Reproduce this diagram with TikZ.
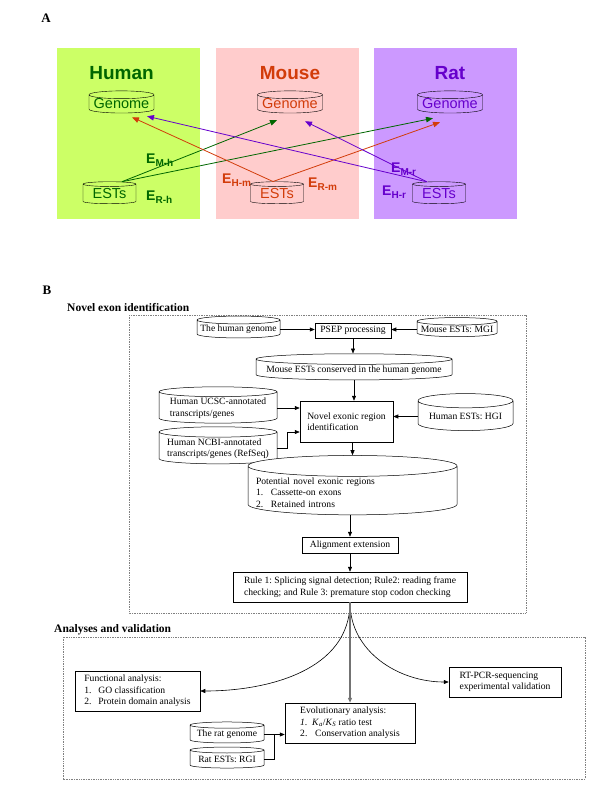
\documentclass[tikz,border=0pt]{standalone}
\usepackage{fontspec}
\setmainfont{Liberation Serif}
\newfontfamily\arialfont{Liberation Sans}
\usetikzlibrary{shapes.geometric,arrows.meta}
\definecolor{humanbg}{HTML}{CCFF66}
\definecolor{mousebg}{HTML}{FFCCCC}
\definecolor{ratbg}{HTML}{CC99FF}
\definecolor{humanfg}{HTML}{006600}
\definecolor{mousefg}{HTML}{D23C0A}
\definecolor{ratfg}{HTML}{6600CC}
\frenchspacing
\newcommand\Esub[1]{E\raisebox{-3pt}{\fontsize{10}{10}\selectfont #1}}
\tikzset{
  tag/.style={font=\fontsize{13}{13}\selectfont\bfseries, inner sep=0pt},
  species/.style={font=\arialfont\fontsize{19}{19}\selectfont\bfseries, inner sep=0pt},
  genomedb/.style={cylinder, shape border rotate=90, draw, aspect=0.14, inner sep=0pt,
    minimum width=65pt, minimum height=18pt, font=\arialfont\fontsize{14.5}{14.5}\selectfont},
  estdb/.style={genomedb, minimum width=53pt, minimum height=22pt},
  elabel/.style={font=\arialfont\fontsize{14}{14}\selectfont\bfseries, anchor=base west, inner sep=0pt},
  link/.style={-{Triangle[length=7pt,width=5.5pt]}, line width=0.8pt},
  store/.style={cylinder, shape border rotate=90, draw, fill=white, aspect=0.1, inner sep=1pt,
    font=\fontsize{9.6}{11.5}\selectfont, line width=0.5pt},
  procbox/.style={draw, fill=white, inner sep=2pt, font=\fontsize{9.6}{11.5}\selectfont, line width=0.5pt},
  flow/.style={-{Triangle[length=5pt,width=4pt]}, line width=0.6pt},
  panel/.style={draw=gray, dash pattern=on 1pt off 0.7pt, line width=0.5pt},
  heading/.style={font=\fontsize{11.5}{12}\selectfont\bfseries, anchor=west, inner sep=0pt}
}
\begin{document}
\begin{tikzpicture}[x=1pt,y=-1pt]
  \useasboundingbox (0,0) rectangle (600,806);
  %
  % panel A: one coloured column per species
  \node[tag] (labA) at (46,18) {A};
  \foreach \nm/\sp/\bx/\gx/\ex/\bg/\fg in {hum/Human/57/121.5/109.5/humanbg/humanfg,
                                          mou/Mouse/216/290/277/mousebg/mousefg,
                                          rat/Rat/374/450/439/ratbg/ratfg}
  {
    \fill[\bg] (\bx,48) rectangle ++(143,171);
    \node[species, text=\fg] (\nm T) at (\gx,73) {\sp};
    \node[genomedb, text=\fg] (\nm G) at (\gx,104) {Genome};
    \node[estdb, text=\fg] (\nm E) at (\ex,194) {ESTs};
  }
  %
  % cross-species EST mappings
  \draw[link, humanfg] (humE.north east) -- ([xshift=-13pt,yshift=-7pt]mouG.south);
  \draw[link, humanfg] (humE.north east) -- ([xshift=-17pt,yshift=-5pt]ratG.south);
  \draw[link, mousefg] ([xshift=-4pt]mouE.north) -- ([xshift=10.5pt,yshift=-4pt]humG.south);
  \draw[link, mousefg] ([xshift=-4pt]mouE.north) -- ([xshift=-10pt,yshift=-9pt]ratG.south);
  \draw[link, ratfg] (ratE.north west) -- ([xshift=25.5pt,yshift=-3pt]humG.south);
  \draw[link, ratfg] (ratE.north west) -- ([xshift=15pt,yshift=-8pt]mouG.south);
  %
  \node[elabel, text=humanfg] (emh) at (146,163) {\Esub{M-h}};
  \node[elabel, text=humanfg] (erh) at (146,200) {\Esub{R-h}};
  \node[elabel, text=mousefg] (ehm) at (222,183) {\Esub{H-m}};
  \node[elabel, text=mousefg] (erm) at (308,187) {\Esub{R-m}};
  \node[elabel, text=ratfg] (emr) at (391,172) {\Esub{M-r}};
  \node[elabel, text=ratfg] (ehr) at (382,195) {\Esub{H-r}};
  %
  % panel B: novel exon identification
  \node[tag] (labB) at (47,290) {B};
  \node[heading] (headN) at (67,308) {Novel exon identification};
  \draw[panel] (129,315) rectangle (526,613);
  %
  \node[store, minimum width=83pt, minimum height=17pt] (hgen) at (238.5,329.5) {The human genome};
  \node[procbox, minimum width=76pt, minimum height=15pt] (psep) at (353,330.5) {PSEP processing};
  \node[store, minimum width=80pt, minimum height=17pt] (mgi) at (457,329.5) {Mouse ESTs: MGI};
  \node[store, aspect=0.06, minimum width=196pt, minimum height=26pt] (cons) at (354,370)
    {Mouse ESTs conserved in the human genome};
  \node[store, align=left, minimum width=118pt, minimum height=28pt] (ucsc) at (218,408)
    {Human UCSC-annotated\\transcripts/genes};
  \node[procbox, align=left, minimum width=93pt, minimum height=41pt] (novel) at (346.5,421.5)
    {Novel exonic region\\identification};
  \node[store, aspect=0.19, minimum width=95pt, minimum height=37pt] (hgi) at (465.5,416.5) {Human ESTs: HGI};
  \node[store, align=left, minimum width=118pt, minimum height=31pt] (ncbi) at (218,448.5)
    {Human NCBI-annotated\\transcripts/genes (RefSeq)};
  \node[store, inner xsep=8pt, text width=193pt, align=left, minimum height=55pt] (pot) at (352.5,492.5)
    {Potential novel exonic regions\\
     \makebox[15pt][l]{1.}Cassette-on exons\\
     \makebox[15pt][l]{2.}Retained introns};
  \node[procbox, minimum width=96pt, minimum height=16pt] (align) at (350,545) {Alignment extension};
  \node[procbox, align=left, minimum width=234pt, minimum height=30pt] (rule) at (350,587)
    {Rule 1: Splicing signal detection; Rule2: reading frame\\
     checking; and Rule 3: premature stop codon checking};
  %
  \draw[flow] (hgen.east) -- (hgen.east -| psep.west);
  \draw[flow] (mgi.west) -- (mgi.west -| psep.east);
  \draw[flow] (psep.south) -- (psep.south |- cons.north);
  \draw[flow] (cons.south) -- (cons.south |- novel.north);
  \draw[flow] (ucsc.east) -- (ucsc.east -| novel.west);
  \draw[flow] (hgi.west) -- (hgi.west -| novel.east);
  \draw[flow] (ncbi.east) -- ++(10,0) |- ([yshift=-10.5pt]novel.west);
  \draw[flow] (pot.north |- novel.south) -- (pot.north);
  \draw[flow] (align.north |- pot.south) -- (align.north);
  \draw[flow] (align.south) -- (rule.north);
  %
  % panel B: analyses and validation
  \node[heading] (headA) at (54,630) {Analyses and validation};
  \draw[panel] (63,637) rectangle (585,779);
  %
  \node[procbox, align=left, minimum width=125pt, minimum height=40pt] (func) at (137.5,691)
    {Functional analysis:\\
     \makebox[14pt][l]{1.}GO classification\\
     \makebox[14pt][l]{2.}Protein domain analysis};
  \node[procbox, align=left, minimum width=112pt, minimum height=30pt] (rtpcr) at (505,682)
    {RT-PCR-sequencing\\experimental validation};
  \node[procbox, align=left, minimum width=130pt, minimum height=40pt] (evo) at (350,723)
    {Evolutionary analysis:\\
     \makebox[12pt][l]{\textit{1.}}\textit{K}\textsubscript{\textit{a}}/\textit{K}\textsubscript{\textit{S}} ratio test\\
     \makebox[15pt][l]{2.}Conservation analysis};
  \node[store, minimum width=74pt, minimum height=21pt] (rgen) at (227,734.5) {The rat genome};
  \node[store, minimum width=74pt, minimum height=21pt] (rest) at (227,759.5) {Rat ESTs: RGI};
  %
  \draw[flow] (rule.south) to[out=-90,in=0] (func.east);
  \draw[flow] (rule.south) to[out=-90,in=180] (rtpcr.west);
  \draw[flow, draw=gray!90!black, line width=1.1pt] (rule.south) -- (evo.north);
  \draw[flow] (rgen.east) -- (rgen.east -| evo.west);
  \draw[line width=0.6pt] (rest.east) -| ([xshift=10pt]rgen.east);
\end{tikzpicture}
\end{document}
